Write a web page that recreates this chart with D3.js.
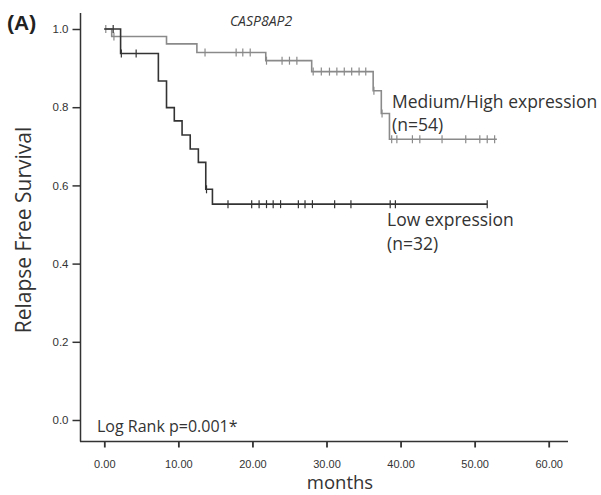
<!DOCTYPE html>
<html>
<head>
<meta charset="utf-8">
<script src="https://cdn.jsdelivr.net/npm/d3@7"></script>
<style>
body { margin: 0; background: #fff; }
svg { display: block; }
</style>
</head>
<body>
<svg width="601" height="495"></svg>
<script>
// Low expression (n=32): step times (months) and survival after each step
var lowTimes = [0, 2.2, 7.3, 8.4, 9.45, 10.5, 11.6, 12.7, 13.7, 14.6];
var lowSurv = [1.0, 0.9375, 0.867, 0.799, 0.765, 0.729, 0.693, 0.659, 0.590, 0.552];
var lowEnd = 51.7;
var lowCensor = [1.2, 2.3, 4.3, 13.8, 16.7, 19.9, 20.9, 21.9, 22.8, 23.8, 26.2, 27.1, 28.1, 31.1, 33.3, 38.6, 39.3, 51.7];

// Medium/High expression (n=54)
var highTimes = [0, 1.0, 8.4, 12.5, 21.8, 28.0, 36.3, 37.4, 38.5];
var highSurv = [1.0, 0.981, 0.962, 0.940, 0.919, 0.891, 0.842, 0.784, 0.718];
var highEnd = 53.0;
var highCensor = [0.2, 1.3, 13.6, 17.8, 18.7, 19.7, 21.9, 24.0, 25.0, 26.0, 28.2, 29.3, 30.4, 31.4, 32.4, 33.4, 34.4, 35.3, 36.4, 37.5, 38.8, 39.5, 41.6, 42.6, 45.6, 48.8, 50.7, 51.7, 52.7];

var xTicks = [0, 10, 20, 30, 40, 50, 60];
var yTicks = [0, 0.2, 0.4, 0.6, 0.8, 1.0];

var svg = d3.select("svg");

var x = d3.scaleLinear().domain([0, 60]).range([104.3, 548.7]);
var y = d3.scaleLinear().domain([0, 1]).range([420, 29]);

var axisFont = "Liberation Sans, Arial, sans-serif";
var labelFont = "Open Sans, sans-serif";

// axes
var xAxis = d3.axisBottom(x).tickValues(xTicks).tickFormat(d3.format(".2f")).tickSizeOuter(0).tickSize(6);
var yAxis = d3.axisLeft(y).tickValues(yTicks).tickFormat(d3.format(".1f")).tickSizeOuter(0).tickSize(8);

var gx = svg.append("g").attr("transform", "translate(0,441.5)").call(xAxis);
gx.select(".domain").attr("d", "M80,0H568");
gx.selectAll("text").attr("y", 19).style("font-family", axisFont).style("font-size", "11px").attr("fill", "#333");
gx.selectAll("line").attr("stroke", "#333").attr("stroke-width", 1.8);

var gy = svg.append("g").attr("transform", "translate(80.5,0)").call(yAxis);
gy.select(".domain").attr("d", "M0,13V441.5");
gy.selectAll("text").attr("x", -12).style("font-family", axisFont).style("font-size", "11.5px").attr("fill", "#333");
gy.selectAll("line").attr("stroke", "#333").attr("stroke-width", 1.5);
svg.selectAll(".domain").attr("stroke", "#333").attr("stroke-width", 1.5);

function stepPath(times, surv, end) {
  var pts = [];
  for (var i = 0; i < times.length; i++) {
    if (i > 0) pts.push([times[i], surv[i - 1]]);
    pts.push([times[i], surv[i]]);
  }
  pts.push([end, surv[surv.length - 1]]);
  return d3.line().x(function(d) { return x(d[0]); }).y(function(d) { return y(d[1]); })(pts);
}

function survAt(times, surv, t) {
  var s = surv[0];
  for (var i = 0; i < times.length; i++) { if (times[i] <= t) s = surv[i]; }
  return s;
}

function drawCurve(times, surv, end, censor, color) {
  svg.append("path")
    .attr("d", stepPath(times, surv, end))
    .attr("fill", "none")
    .attr("stroke", color)
    .attr("stroke-width", 1.6);
  svg.append("g").selectAll("line")
    .data(censor)
    .enter()
    .append("line")
    .attr("x1", function(d) { return x(d); })
    .attr("x2", function(d) { return x(d); })
    .attr("y1", function(d) { return y(survAt(times, surv, d)) - 4; })
    .attr("y2", function(d) { return y(survAt(times, surv, d)) + 4; })
    .attr("stroke", color)
    .attr("stroke-width", 1.2);
}

drawCurve(highTimes, highSurv, highEnd, highCensor, "#8a8a8a");
drawCurve(lowTimes, lowSurv, lowEnd, lowCensor, "#333");

// texts
svg.append("text").attr("x", 7).attr("y", 30).text("(A)")
  .style("font-family", axisFont).style("font-size", "21px").style("font-weight", "bold").attr("fill", "#222");

svg.append("text").attr("x", 261).attr("y", 26).attr("text-anchor", "middle").text("CASP8AP2")
  .style("font-family", labelFont).style("font-size", "14px").style("font-style", "italic").attr("fill", "#333");

svg.append("text")
  .attr("transform", "translate(31,230) rotate(-90)")
  .attr("text-anchor", "middle")
  .text("Relapse Free Survival")
  .style("font-family", labelFont).style("font-size", "21px").attr("fill", "#333");

svg.append("text").attr("x", 340).attr("y", 489).attr("text-anchor", "middle").text("months")
  .style("font-family", labelFont).style("font-size", "18.5px").attr("fill", "#333");

svg.append("text").attr("x", 97).attr("y", 432).text("Log Rank p=0.001*")
  .style("font-family", labelFont).style("font-size", "16px").attr("fill", "#333");

svg.append("text").attr("x", 392).attr("y", 108).text("Medium/High expression")
  .style("font-family", labelFont).style("font-size", "17.5px").attr("fill", "#333");
svg.append("text").attr("x", 392).attr("y", 131).text("(n=54)")
  .style("font-family", labelFont).style("font-size", "17.5px").attr("fill", "#333");
svg.append("text").attr("x", 387).attr("y", 226).text("Low expression")
  .style("font-family", labelFont).style("font-size", "17.5px").attr("fill", "#333");
svg.append("text").attr("x", 387).attr("y", 250).text("(n=32)")
  .style("font-family", labelFont).style("font-size", "17.5px").attr("fill", "#333");
</script>
</body>
</html>
